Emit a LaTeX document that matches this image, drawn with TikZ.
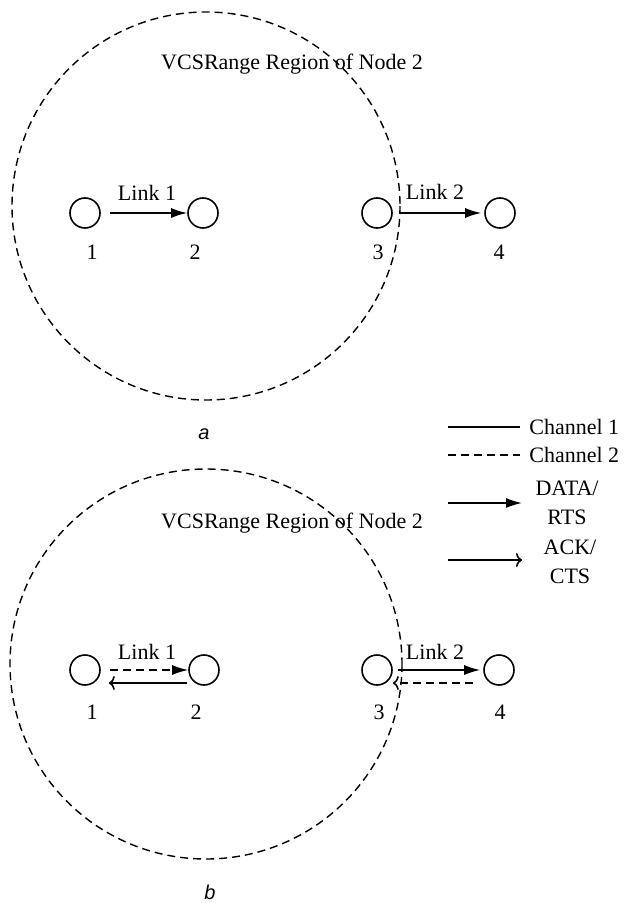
\documentclass[tikz,border=0pt]{standalone}
\usepackage{fontspec}
\setmainfont{Liberation Serif}
\newfontfamily\capfont{Liberation Sans}
\usetikzlibrary{arrows.meta,positioning}

\tikzset{
	station/.style={draw,circle,minimum size=15pt,inner sep=0pt,line width=0.8pt},
	idlabel/.style={font=\fontsize{11}{14.5}\selectfont,inner sep=0pt},
	datarrow/.style={line width=0.8pt,-{Latex[length=8pt,width=5pt]}},
	ackarrow/.style={line width=0.8pt,-{To[length=3pt,width=7pt]}},
	chantwo/.style={dash pattern=on 4pt off 2.5pt},
	rangeline/.style={line width=0.7pt,dash pattern=on 4pt off 2.5pt},
	caption/.style={font=\capfont\itshape\fontsize{10}{12}\selectfont,inner sep=0pt}
}

\begin{document}
\begin{tikzpicture}[x=0.5pt,y=-0.5pt]
	\useasboundingbox (0,0) rectangle (623,903);
	
	% ---------- part a ----------
	\draw[rangeline] (206,206) ellipse (194 and 194);
	\node[idlabel] (titlea) at (292,64) {VCSRange Region of Node 2};
	
	% stations
	\node[station] (a1) at (85,213) {};
	\node[station] (a2) at (203,213) {};
	\node[station] (a3) at (377,213) {};
	\node[station] (a4) at (500,213) {};
	\node[idlabel] (la1) at (92,252) {1};
	\node[idlabel] (la2) at (195,252) {2};
	\node[idlabel] (la3) at (378,252) {3};
	\node[idlabel] (la4) at (499,252) {4};
	
	% links
	\draw[datarrow] ([xshift=4.5pt]a1.east) -- (a2.west);
	\draw[datarrow] ([xshift=3pt]a3.east) -- ([xshift=-1.5pt]a4.west);
	\node[idlabel] (linka1) at (147,193) {Link 1};
	\node[idlabel] (linka2) at (435,192) {Link 2};
	
	\node[caption] (capa) at (204,434) {a};
	
	% ---------- legend ----------
	\coordinate (ch1s) at (448,427);
	\coordinate (ch1e) at (520,427);
	\coordinate (ch2s) at (448,455);
	\coordinate (ch2e) at (520,455);
	\coordinate (dats) at (448,503);
	\coordinate (date) at (522,503);
	\coordinate (acks) at (448,560);
	\coordinate (acke) at (522,560);
	\draw[line width=0.8pt] (ch1s) -- (ch1e);
	\draw[line width=0.8pt,chantwo] (ch2s) -- (ch2e);
	\draw[datarrow] (dats) -- (date);
	\draw[ackarrow] (acks) -- (acke);
	\node[idlabel,anchor=west] (lch1) at (529,427) {Channel 1};
	\node[idlabel,anchor=west] (lch2) at (529,455) {Channel 2};
	\node[idlabel,align=center] (ldat) at (567,503) {DATA/\\RTS};
	\node[idlabel,align=center] (lack) at (570,562) {ACK/\\CTS};
	
	% ---------- part b ----------
	\draw[rangeline] (206,664) ellipse (196 and 195);
	\node[idlabel] (titleb) at (292,523) {VCSRange Region of Node 2};
	
	% stations
	\node[station] (b1) at (85,670) {};
	\node[station] (b2) at (204,670) {};
	\node[station] (b3) at (377,670) {};
	\node[station] (b4) at (499,670) {};
	\node[idlabel] (lb1) at (92,712) {1};
	\node[idlabel] (lb2) at (196,712) {2};
	\node[idlabel] (lb3) at (379,712) {3};
	\node[idlabel] (lb4) at (500,712) {4};
	
	% links
	\draw[datarrow,chantwo] ([xshift=4.5pt]b1.east) -- (b2.west);
	\draw[ackarrow] ([xshift=-0.5pt,yshift=-6.5pt]b2.west) -- ([xshift=4pt,yshift=-6.5pt]b1.east);
	\draw[datarrow] ([xshift=2.5pt]b3.east) -- ([xshift=-1.5pt]b4.west);
	\draw[ackarrow,chantwo] ([xshift=-5pt,yshift=-6.5pt]b4.west) -- ([xshift=0pt,yshift=-6.5pt]b3.east);
	\node[idlabel] (linkb1) at (147,652) {Link 1};
	\node[idlabel] (linkb2) at (435,652) {Link 2};
	
	\node[caption] (capb) at (210,892) {b};
	
\end{tikzpicture}
\end{document}
